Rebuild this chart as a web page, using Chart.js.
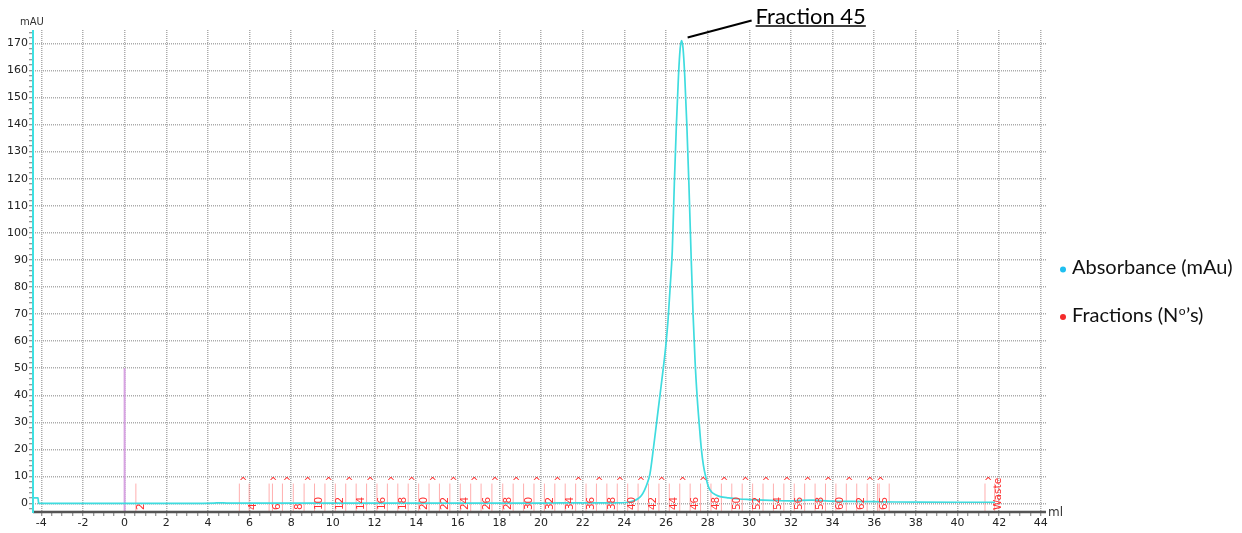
<!DOCTYPE html>
<html>
<head>
<meta charset="utf-8">
<script src="https://cdn.jsdelivr.net/npm/chart.js@4.4.1/dist/chart.umd.min.js"></script>
<style>
  html, body { margin: 0; padding: 0; background: #fff; }
  #wrap { width: 1242px; height: 533px; }
</style>
</head>
<body>
<div id="wrap"><canvas id="chromChart" width="1242" height="533"></canvas></div>
<script>
// UV trace, volume (ml) vs absorbance (mAU)
const volumeMl = [-4.40, -4.16, -4.13, -3.0, -1.0, 1.0, 3.0, 4.3, 4.6, 4.9, 6.0, 8.0, 10.0, 12.0, 14.0, 16.0, 18.0, 20.0, 22.0, 23.5,
  24.2, 24.45, 24.65, 24.82, 24.97, 25.10, 25.23, 25.39, 25.55, 25.71, 25.87, 26.00, 26.10, 26.20, 26.30, 26.40, 26.50, 26.60, 26.68, 26.75,
  26.82, 26.90, 27.00, 27.10, 27.20, 27.30, 27.40, 27.50, 27.60, 27.70, 27.80, 27.92, 28.05, 28.20, 28.40, 28.60, 29.00, 29.50, 30.00, 31.00,
  32.00, 32.50, 33.00, 33.50, 34.00, 35.00, 36.00, 37.00, 38.00, 40.00, 41.80];
const absorbanceMau = [2.1, 2.1, 0.1, 0.1, 0.1, 0.1, 0.1, 0.2, 0.3, 0.2, 0.2, 0.2, 0.2, 0.2, 0.2, 0.2, 0.2, 0.2, 0.3, 0.3,
  0.5, 1.0, 1.8, 3.0, 5.0, 7.5, 11, 20, 30, 40, 50, 59, 68, 80, 93, 118, 140, 158, 168, 171,
  168, 158, 140, 118, 93, 70, 52, 39, 29, 20, 14, 9.5, 6, 4.2, 3.2, 2.6, 2.1, 1.7, 1.5, 1.2,
  1.0, 1.2, 1.3, 1.1, 0.9, 0.8, 0.7, 0.6, 0.55, 0.5, 0.5];

// injection mark
const injectionMl = 0;
const injectionMau = 50;

// fraction collector marks
const fractionBoundsMl = [0.54, 5.51, 5.98, 6.94, 7.10, 7.58, 8.10, 8.62, 9.12, 9.62, 10.12, 10.62, 11.12, 11.62, 12.12, 12.62,
  13.12, 13.62, 14.12, 14.62, 15.12, 15.62, 16.12, 16.62, 17.12, 17.64, 18.16, 18.66, 19.16, 19.66, 20.16, 20.66, 21.16, 21.66,
  22.16, 22.66, 23.16, 23.66, 24.16, 24.66, 25.16, 25.66, 26.16, 26.66, 27.16, 27.66, 28.16, 28.66, 29.16, 29.66, 30.16, 30.66,
  31.16, 31.66, 32.16, 32.66, 33.16, 33.66, 34.16, 34.66, 35.16, 35.66, 36.16, 36.24, 36.72, 41.32, 41.78];
const fractionLabels = ['2', '4', '6', '8', '10', '12', '14', '16', '18', '20', '22', '24', '26', '28', '30', '32', '34', '36',
  '38', '40', '42', '44', '46', '48', '50', '52', '54', '56', '58', '60', '62', '65', 'Waste'];
const fractionLabelMl = [0.79, 6.18, 7.34, 8.38, 9.36, 10.38, 11.36, 12.37, 13.37, 14.37, 15.39, 16.37, 17.40, 18.42, 19.42, 20.42,
  21.42, 22.42, 23.40, 24.40, 25.40, 26.42, 27.40, 28.40, 29.40, 30.38, 31.38, 32.38, 33.39, 34.37, 35.36, 36.46, 41.98];
const fractionCaretMl = [5.70, 7.14, 7.79, 8.79, 9.80, 10.79, 11.79, 12.79, 13.79, 14.80, 15.79, 16.79, 17.79, 18.80, 19.79, 20.79,
  21.79, 22.79, 23.79, 24.80, 25.79, 26.80, 27.79, 28.80, 29.81, 30.80, 31.81, 32.80, 33.79, 34.80, 35.79, 36.30, 41.47];

// axes
const xTickValues = [-4, -2, 0, 2, 4, 6, 8, 10, 12, 14, 16, 18, 20, 22, 24, 26, 28, 30, 32, 34, 36, 38, 40, 42, 44];
const xTickLabels = ['-4', '-2', '0', '2', '4', '6', '8', '10', '12', '14', '16', '18', '20', '22', '24', '26', '28', '30', '32', '34', '36', '38', '40', '42', '44'];
const yTickValues = [0, 10, 20, 30, 40, 50, 60, 70, 80, 90, 100, 110, 120, 130, 140, 150, 160, 170];
const yTickLabels = ['0', '10', '20', '30', '40', '50', '60', '70', '80', '90', '100', '110', '120', '130', '140', '150', '160', '170'];

const peakLabel = 'Fraction 45';
const legendItems = [
  { text: 'Absorbance (mAu)', color: '#1fbff0' },
  { text: 'Fractions (N', sup: 'o', tail: '\u2019s)', color: '#f42a2a' }
];

const X_MIN = -4.4, X_MAX = 44.25, Y_MIN = -3.1, Y_MAX = 174.9;
const FRAC_TOP = 7.4;

const traceColor = '#3fdcdf';
const fracRed = '#ff3030';
const gridGrey = '#ababab';

function withMinor(majors, step, min, max) {
  const out = [];
  for (let i = 0; i < majors.length - 1; i++) {
    for (let v = majors[i]; v < majors[i + 1] - 1e-9; v += step) out.push(Math.round(v * 100) / 100);
  }
  out.push(majors[majors.length - 1]);
  let v = majors[majors.length - 1] + step;
  while (v <= max + 1e-9) { out.push(Math.round(v * 100) / 100); v += step; }
  v = majors[0] - step;
  while (v >= min - 1e-9) { out.unshift(Math.round(v * 100) / 100); v -= step; }
  return out;
}

const traceData = volumeMl.map((v, i) => ({ x: v, y: absorbanceMau[i] }));
const fractionData = [];
fractionBoundsMl.forEach(b => {
  fractionData.push({ x: b, y: Y_MIN }, { x: b, y: FRAC_TOP }, { x: b, y: null });
});

const annotations = {
  id: 'chromAnnotations',
  afterDatasetsDraw(chart) {
    const { ctx, scales: { x, y }, chartArea } = chart;
    ctx.save();
    // fraction numbers, rotated
    ctx.fillStyle = fracRed;
    ctx.font = '10.5px "DejaVu Sans"';
    ctx.textAlign = 'left';
    ctx.textBaseline = 'middle';
    fractionLabels.forEach((t, i) => {
      ctx.save();
      ctx.translate(x.getPixelForValue(fractionLabelMl[i]), y.getPixelForValue(-2.4));
      ctx.rotate(-Math.PI / 2);
      ctx.fillText(t, 0, 0);
      ctx.restore();
    });
    ctx.textAlign = 'center';
    ctx.font = '10px "DejaVu Sans"';
    fractionCaretMl.forEach(c => {
      ctx.fillText('^', x.getPixelForValue(c), y.getPixelForValue(7.8));
    });

    // solid axis lines
    ctx.lineWidth = 2.5;
    ctx.strokeStyle = '#555';
    ctx.beginPath();
    ctx.moveTo(chartArea.left, chartArea.bottom);
    ctx.lineTo(chartArea.right, chartArea.bottom);
    ctx.stroke();
    ctx.lineWidth = 2;
    ctx.strokeStyle = '#3fe0e2';
    ctx.beginPath();
    ctx.moveTo(chartArea.left, chartArea.top);
    ctx.lineTo(chartArea.left, chartArea.bottom + 1);
    ctx.stroke();
    ctx.restore();
  },
  afterDraw(chart) {
    const { ctx, scales: { x, y }, chartArea } = chart;
    ctx.save();
    // axis titles
    ctx.fillStyle = '#333';
    ctx.font = '10px "DejaVu Sans"';
    ctx.textAlign = 'left';
    ctx.textBaseline = 'alphabetic';
    ctx.fillText('mAU', 20, 25);
    ctx.font = '12px "DejaVu Sans"';
    ctx.textBaseline = 'middle';
    ctx.fillText('ml', chartArea.right + 2, chartArea.bottom + 1);

    // peak callout
    let iPeak = 0;
    absorbanceMau.forEach((a, i) => { if (a > absorbanceMau[iPeak]) iPeak = i; });
    const px = x.getPixelForValue(volumeMl[iPeak]);
    const py = y.getPixelForValue(absorbanceMau[iPeak]);
    ctx.strokeStyle = '#000';
    ctx.lineWidth = 2;
    ctx.beginPath();
    ctx.moveTo(px + 6, py - 3);
    ctx.lineTo(px + 70, py - 20);
    ctx.stroke();
    ctx.fillStyle = '#000';
    ctx.font = '22px Lato';
    ctx.textBaseline = 'alphabetic';
    ctx.fillText(peakLabel, px + 74, 23.5);
    const w = ctx.measureText(peakLabel).width;
    ctx.lineWidth = 1.5;
    ctx.beginPath();
    ctx.moveTo(px + 74, 26);
    ctx.lineTo(px + 74 + w, 26);
    ctx.stroke();

    // legend
    const lx = chartArea.right + 26;
    const rows = [274, 321.5];
    legendItems.forEach((it, i) => {
      ctx.fillStyle = it.color;
      ctx.beginPath();
      ctx.arc(lx - 9, rows[i] - 4.5, 3, 0, Math.PI * 2);
      ctx.fill();
      ctx.fillStyle = '#111';
      ctx.font = '20px Lato';
      ctx.fillText(it.text, lx, rows[i]);
      if (it.sup) {
        let cx = lx + ctx.measureText(it.text).width;
        ctx.font = '12px Lato';
        ctx.fillText(it.sup, cx + 0.5, rows[i] - 7);
        cx += ctx.measureText(it.sup).width + 1;
        ctx.font = '20px Lato';
        ctx.fillText(it.tail, cx, rows[i]);
      }
    });
    ctx.restore();
  }
};

const isMajorX = v => xTickValues.includes(v);
const isMajorY = v => yTickValues.includes(v);

new Chart(document.getElementById('chromChart').getContext('2d'), {
  type: 'line',
  data: {
    datasets: [
      {
        label: 'Absorbance (mAu)',
        data: traceData,
        borderColor: traceColor,
        borderWidth: 1.7,
        pointRadius: 0,
        cubicInterpolationMode: 'monotone'
      },
      {
        label: 'Injection',
        data: [{ x: injectionMl, y: Y_MIN }, { x: injectionMl, y: injectionMau }],
        borderColor: '#d7a2e2',
        borderWidth: 2,
        pointRadius: 0
      },
      {
        label: 'Fractions',
        data: fractionData,
        borderColor: 'rgba(255,110,110,0.55)',
        borderWidth: 1,
        pointRadius: 0,
        spanGaps: false
      }
    ]
  },
  options: {
    responsive: false,
    animation: false,
    events: [],
    layout: { padding: { left: 0, top: 30, right: 196, bottom: 0 } },
    plugins: { legend: { display: false }, tooltip: { enabled: false } },
    scales: {
      x: {
        type: 'linear',
        min: X_MIN,
        max: X_MAX,
        afterBuildTicks: s => { s.ticks = withMinor(xTickValues, 0.5, X_MIN, X_MAX).map(v => ({ value: v })); },
        afterFit: s => { s.height = 21; },
        ticks: {
          autoSkip: false,
          maxRotation: 0,
          minRotation: 0,
          padding: 1,
          color: '#222',
          font: { family: 'DejaVu Sans', size: 11 },
          callback: v => isMajorX(v) ? xTickLabels[xTickValues.indexOf(v)] : ''
        },
        grid: {
          color: c => isMajorX(c.tick.value) ? gridGrey : 'rgba(0,0,0,0)',
          lineWidth: 1.5,
          tickLength: 4,
          tickColor: c => (c.tick.value > X_MIN + 0.01 && c.tick.value < X_MAX - 0.01) ? '#777' : 'rgba(0,0,0,0)',
          tickWidth: 1
        },
        border: { display: false, dash: [1, 1] }
      },
      y: {
        min: Y_MIN,
        max: Y_MAX,
        afterBuildTicks: s => { s.ticks = withMinor(yTickValues, 2, Y_MIN, Y_MAX).map(v => ({ value: v })); },
        afterFit: s => { s.width = 33; },
        ticks: {
          autoSkip: false,
          padding: 1,
          color: '#222',
          font: { family: 'DejaVu Sans', size: 11 },
          callback: v => isMajorY(v) ? yTickLabels[yTickValues.indexOf(v)] : ''
        },
        grid: {
          color: c => isMajorY(c.tick.value) ? gridGrey : 'rgba(0,0,0,0)',
          lineWidth: 1.5,
          tickLength: 4,
          tickColor: '#777',
          tickWidth: 1
        },
        border: { display: false, dash: [1, 1] }
      }
    }
  },
  plugins: [annotations]
});
</script>
</body>
</html>
